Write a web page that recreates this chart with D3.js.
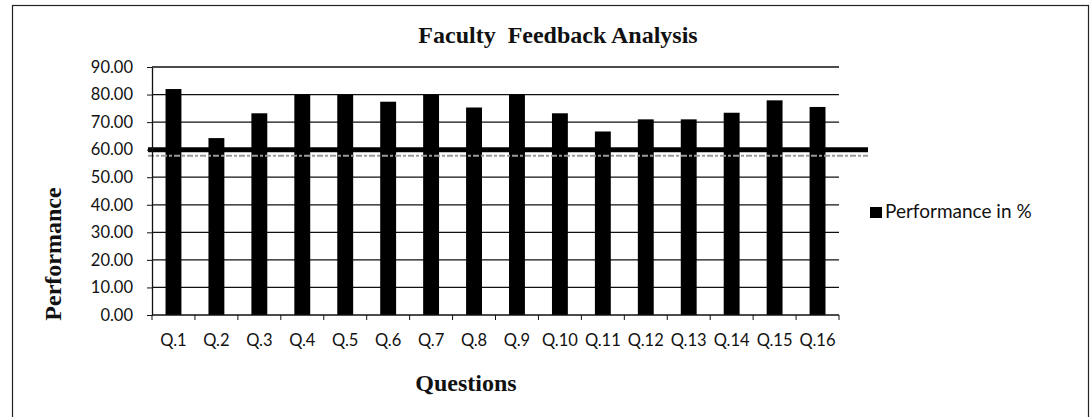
<html>
<head>
<script src="https://d3js.org/d3.v7.min.js"></script>
<style>
  body { margin: 0; background: #fff; }
  svg text { fill: #111; }
</style>
</head>
<body>
<div id="chart"></div>
<script>
// chart values
var questions = ["Q.1","Q.2","Q.3","Q.4","Q.5","Q.6","Q.7","Q.8",
                 "Q.9","Q.10","Q.11","Q.12","Q.13","Q.14","Q.15","Q.16"];
var performance = [82.0, 64.2, 73.2, 80.1, 80.0, 77.4, 80.0, 75.3,
                   80.1, 73.2, 66.6, 71.0, 71.0, 73.4, 77.9, 75.5];
var yTicks = [0, 10, 20, 30, 40, 50, 60, 70, 80, 90];
var threshold = 60;
var seriesName = "Performance in %";

var W = 1091, H = 417;
var margin = {top: 67, right: 252, bottom: 102, left: 152};
var width = W - margin.left - margin.right,
    height = H - margin.top - margin.bottom;

var svg = d3.select("#chart").append("svg")
    .attr("width", W).attr("height", H);

// outer frame
svg.append("rect")
    .attr("x", 12.5).attr("y", 5.5)
    .attr("width", 1076).attr("height", 420)
    .attr("fill", "none").attr("stroke", "#222").attr("stroke-width", 1.2);

var g = svg.append("g")
    .attr("transform", "translate(" + margin.left + "," + margin.top + ")");

var x = d3.scaleBand().domain(questions).range([0, width]).paddingInner(0.63).paddingOuter(0.315);
var y = d3.scaleLinear().domain([0, 90]).range([height, 0]);

// gridlines
g.selectAll(".grid")
  .data(yTicks.filter(function(d){ return d > 0; }))
  .enter().append("line")
    .attr("x1", 0).attr("x2", width)
    .attr("y1", function(d){ return y(d); })
    .attr("y2", function(d){ return y(d); })
    .attr("stroke", "#111").attr("stroke-width", 1.3);

// bars
g.selectAll(".bar")
  .data(performance)
  .enter().append("rect")
    .attr("x", function(d, i){ return x(questions[i]); })
    .attr("y", function(d){ return y(d); })
    .attr("width", x.bandwidth())
    .attr("height", function(d){ return height - y(d); })
    .attr("fill", "#000");

// threshold line at 60 with its grey smear
g.append("line")
    .attr("x1", -4).attr("x2", width + 29)
    .attr("y1", y(threshold) + 6).attr("y2", y(threshold) + 6)
    .attr("stroke", "#9a9a9a").attr("stroke-width", 2)
    .attr("stroke-dasharray", "6,2,3,2");
g.append("line")
    .attr("x1", -4).attr("x2", width + 29)
    .attr("y1", y(threshold)).attr("y2", y(threshold))
    .attr("stroke", "#000").attr("stroke-width", 5);

// y axis
var yAxis = g.append("g")
    .call(d3.axisLeft(y).tickValues(yTicks).tickSize(5).tickSizeOuter(0)
          .tickFormat(d3.format(".2f")));
yAxis.select(".domain").attr("stroke", "#111").attr("stroke-width", 1.3);
yAxis.selectAll(".tick line").attr("stroke", "#111");
yAxis.selectAll("text")
    .attr("x", -19)
    .style("font-family", "Lato, 'Open Sans', sans-serif")
    .style("font-size", "16.5px");

// x axis, ticks on the category boundaries
var xAxis = g.append("g")
    .attr("transform", "translate(0," + height + ")");
xAxis.append("line")
    .attr("x1", 0).attr("x2", width)
    .attr("stroke", "#111").attr("stroke-width", 1.3);
var bounds = questions.map(function(q){ return x(q) - x.step() * x.paddingInner() / 2; }).concat([width]);
xAxis.selectAll(".xt")
  .data(bounds)
  .enter().append("line")
    .attr("x1", function(d){ return d; }).attr("x2", function(d){ return d; })
    .attr("y1", 0).attr("y2", 5)
    .attr("stroke", "#111");
xAxis.selectAll(".xl")
  .data(questions)
  .enter().append("text")
    .attr("x", function(d){ return x(d) + x.bandwidth() / 2; })
    .attr("y", 31)
    .attr("text-anchor", "middle")
    .style("font-family", "Lato, 'Open Sans', sans-serif")
    .style("font-size", "16.5px")
    .text(function(d){ return d; });

// titles
svg.append("text")
    .attr("x", 558).attr("y", 43)
    .attr("text-anchor", "middle")
    .style("font-family", "'Liberation Serif', 'Times New Roman', serif")
    .style("font-weight", "bold").style("font-size", "24px")
    .style("white-space", "pre")
    .text("Faculty  Feedback Analysis");

svg.append("text")
    .attr("x", 466).attr("y", 391)
    .attr("text-anchor", "middle")
    .style("font-family", "'Liberation Serif', 'Times New Roman', serif")
    .style("font-weight", "bold").style("font-size", "24px")
    .text("Questions");

svg.append("text")
    .attr("transform", "translate(61,254) rotate(-90)")
    .attr("text-anchor", "middle")
    .style("font-family", "'Liberation Serif', 'Times New Roman', serif")
    .style("font-weight", "bold").style("font-size", "24px")
    .text("Performance");

// legend
var legend = svg.append("g").attr("transform", "translate(870,207)");
legend.append("rect").attr("width", 12).attr("height", 11).attr("fill", "#000");
legend.append("text")
    .attr("x", 15).attr("y", 11)
    .style("font-family", "Lato, 'Open Sans', sans-serif")
    .style("font-size", "19px")
    .text(seriesName);
</script>
</body>
</html>
